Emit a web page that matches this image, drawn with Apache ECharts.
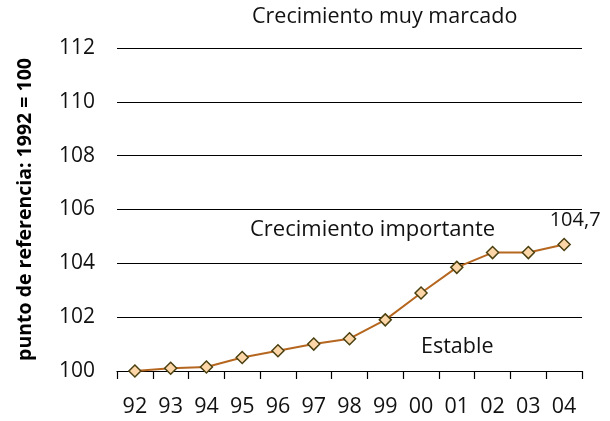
<!DOCTYPE html>
<html>
<head>
<meta charset="utf-8">
<script src="https://cdn.jsdelivr.net/npm/echarts@6/dist/echarts.min.js"></script>
<style>
  html, body { margin: 0; padding: 0; background: #fff; }
  #chart { width: 610px; height: 421px; }
</style>
</head>
<body>
<div id="chart"></div>
<script>
var years = ['92','93','94','95','96','97','98','99','00','01','02','03','04'];
var indexValues = [100.0, 100.1, 100.15, 100.5, 100.75, 101.0, 101.2, 101.9, 102.9, 103.85, 104.4, 104.4, 104.7];
var yTicks = [100, 102, 104, 106, 108, 110, 112];
var zoneLabels = ['Crecimiento muy marcado', 'Crecimiento importante', 'Estable'];
var axisTitle = 'punto de referencia: 1992 = 100';

var chart = echarts.init(document.getElementById('chart'));
var font = '"Open Sans", "Noto Sans", sans-serif';

var option = {
    animation: false,
    textStyle: { fontFamily: font },
    grid: { left: 117, right: 28, top: 48, bottom: 50 },
    xAxis: {
        type: 'category',
        data: years,
        boundaryGap: true,
        axisLine: { lineStyle: { color: '#000', width: 1.2 } },
        axisTick: { show: true, inside: false, length: 8, lineStyle: { color: '#000', width: 1.2 } },
        axisLabel: { color: '#111', fontSize: 21.5, margin: 25, fontFamily: font }
    },
    yAxis: {
        type: 'value',
        min: yTicks[0],
        max: yTicks[yTicks.length - 1],
        interval: 2,
        name: axisTitle,
        nameLocation: 'middle',
        nameGap: 82,
        nameTextStyle: { color: '#000', fontSize: 19.5, fontWeight: 'bold', fontFamily: font },
        axisLine: { show: false },
        axisTick: { show: false },
        axisLabel: { color: '#111', fontSize: 21, margin: 22, fontFamily: font },
        splitLine: { lineStyle: { color: '#000', width: 1 } }
    },
    series: [{
        type: 'line',
        data: indexValues,
        symbol: 'diamond',
        symbolSize: 12,
        itemStyle: { color: '#fdd6a8', borderColor: '#4a4010', borderWidth: 1.5 },
        lineStyle: { color: '#b5661f', width: 2 },
        label: {
            show: true,
            position: 'top',
            offset: [11, -2],
            fontSize: 20,
            color: '#111',
            fontFamily: font,
            formatter: function (p) {
                return p.dataIndex === indexValues.length - 1 ? String(p.value).replace('.', ',') : '';
            }
        }
    }],
    graphic: [
        { type: 'text', left: 252, top: 6, style: { text: zoneLabels[0], fontSize: 21.5, fill: '#111', fontFamily: font } },
        { type: 'text', left: 250, top: 219, style: { text: zoneLabels[1], fontSize: 22, fill: '#111', fontFamily: font } },
        { type: 'text', left: 421, top: 336, style: { text: zoneLabels[2], fontSize: 21.5, fill: '#111', fontFamily: font } }
    ]
};
chart.setOption(option);
</script>
</body>
</html>
